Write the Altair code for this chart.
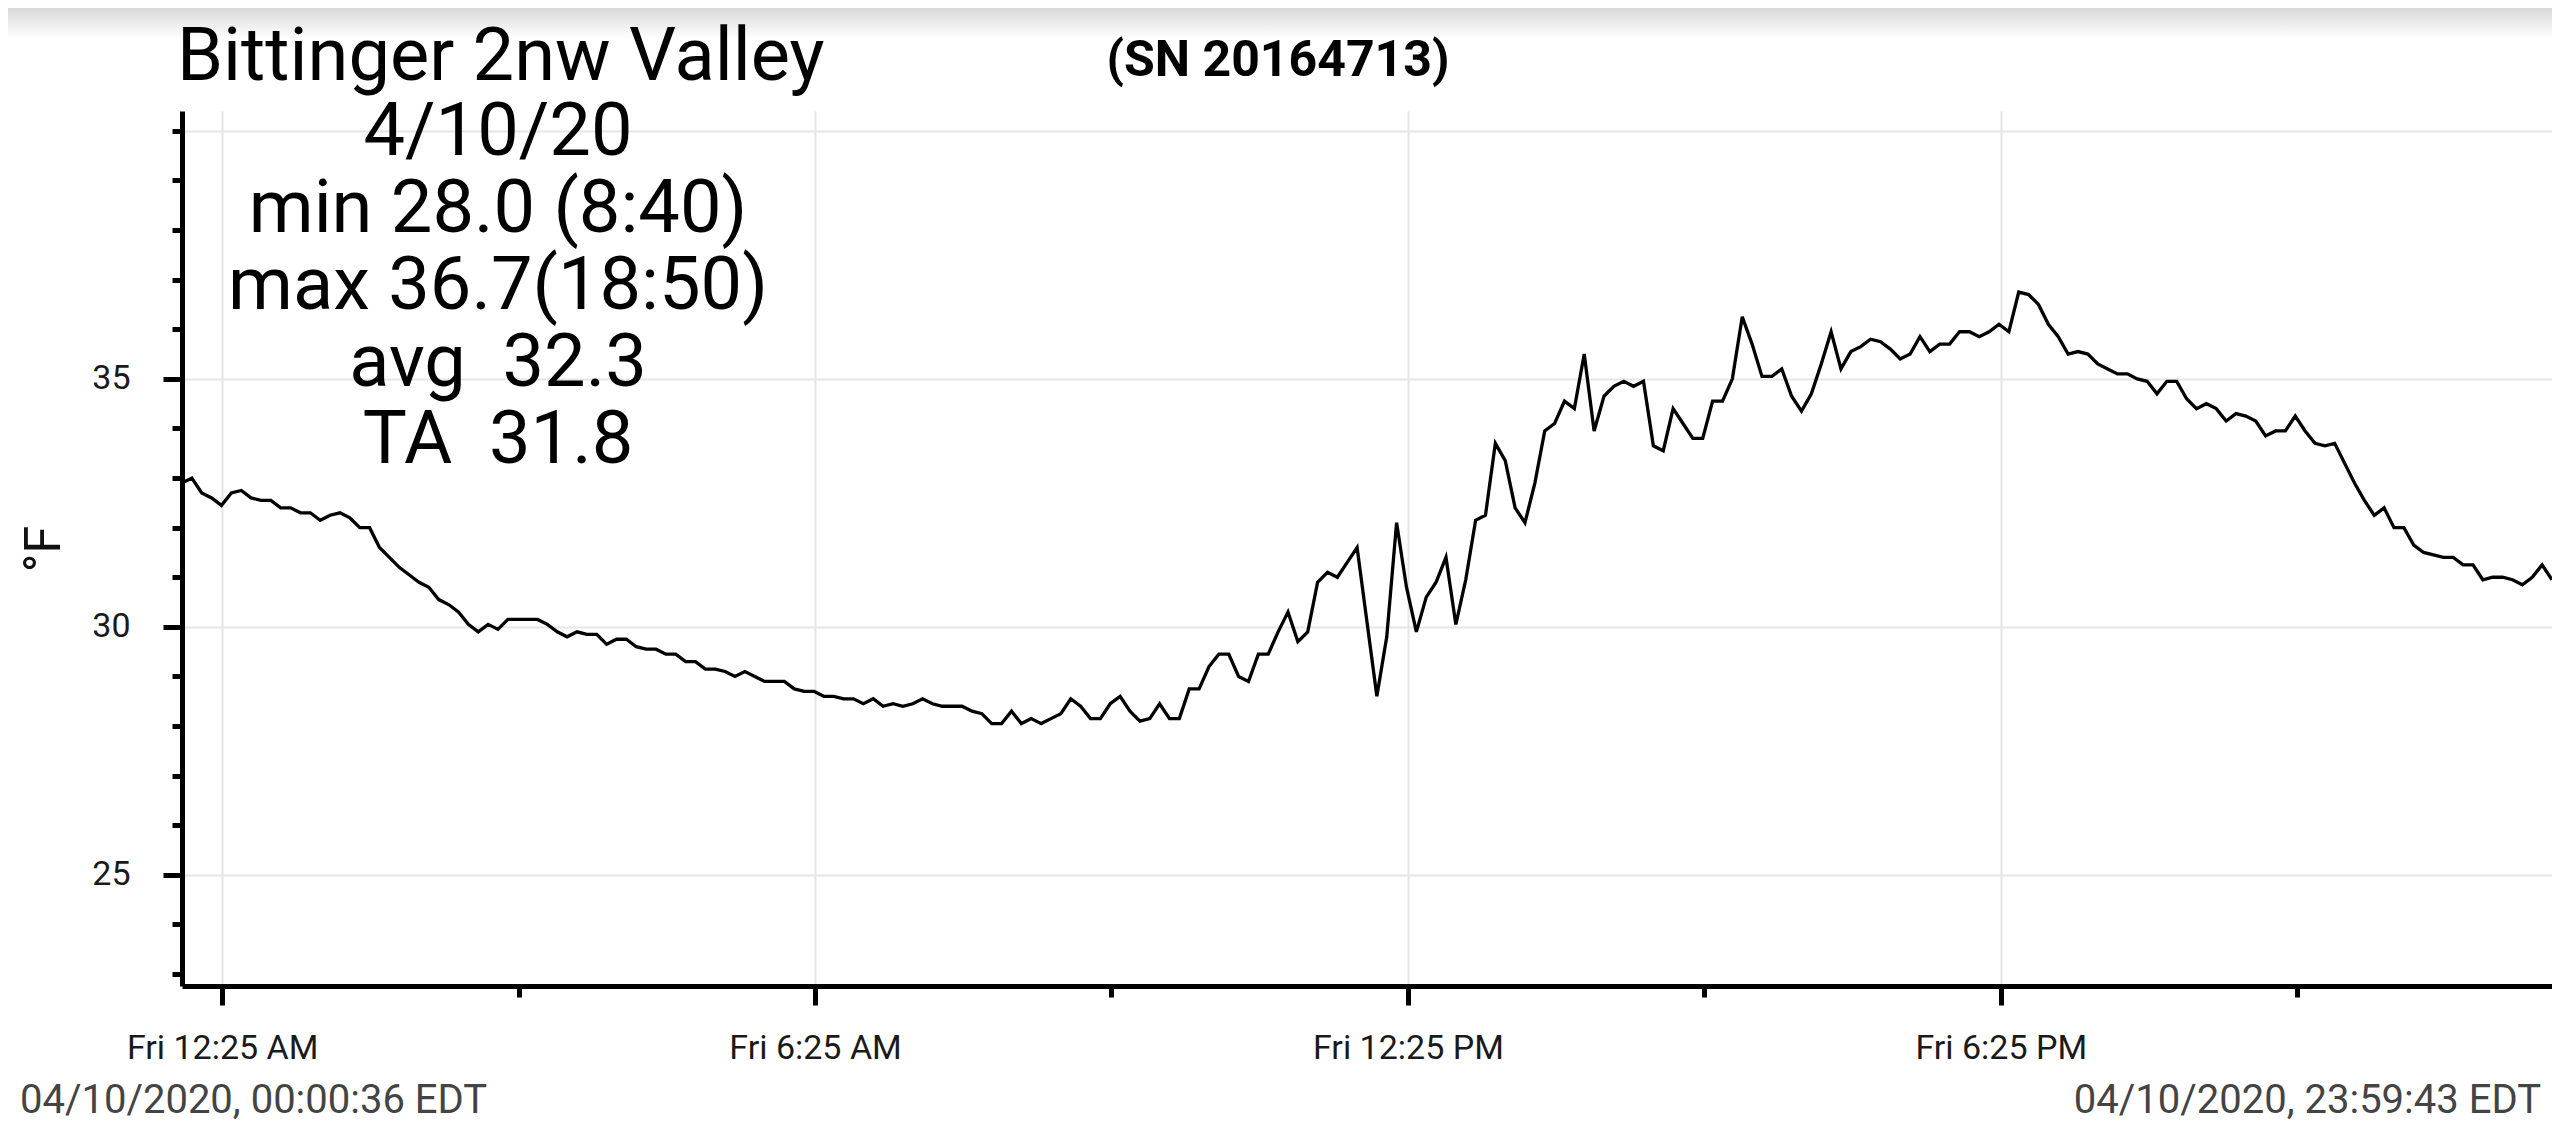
import altair as alt
import pandas as pd

# ---- data ----
station = "Bittinger 2nw Valley"
serial = "(SN 20164713)"
stats_lines = ["4/10/20", "min 28.0 (8:40)", "max 36.7(18:50)", "avg \u00a032.3", "TA \u00a031.8"]
start_label = "04/10/2020, 00:00:36 EDT"
end_label = "04/10/2020, 23:59:43 EDT"
start_time = "2020-04-10 00:00:36"
end_time = "2020-04-10 23:59:43"

temps = [
    32.9, 33.0, 32.7, 32.6, 32.45, 32.7, 32.75, 32.6, 32.55, 32.55,
    32.4, 32.4, 32.3, 32.3, 32.15, 32.25, 32.3, 32.2, 32.0, 32.0,
    31.6, 31.4, 31.2, 31.05, 30.9, 30.8, 30.55, 30.45, 30.3, 30.05,
    29.9, 30.05, 29.95, 30.15, 30.15, 30.15, 30.15, 30.05, 29.9, 29.8,
    29.9, 29.85, 29.85, 29.65, 29.75, 29.75, 29.6, 29.55, 29.55, 29.45,
    29.45, 29.3, 29.3, 29.15, 29.15, 29.1, 29.0, 29.1, 29.0, 28.9,
    28.9, 28.9, 28.75, 28.7, 28.7, 28.6, 28.6, 28.55, 28.55, 28.45,
    28.55, 28.4, 28.45, 28.4, 28.45, 28.55, 28.45, 28.4, 28.4, 28.4,
    28.3, 28.25, 28.05, 28.05, 28.3, 28.05, 28.15, 28.05, 28.15, 28.25,
    28.55, 28.4, 28.15, 28.15, 28.45, 28.6, 28.3, 28.1, 28.15, 28.45,
    28.15, 28.15, 28.75, 28.75, 29.2, 29.45, 29.45, 29.0, 28.9, 29.45,
    29.45, 29.9, 30.3, 29.7, 29.9, 30.9, 31.1, 31.0, 31.3, 31.6,
    30.1, 28.6, 29.8, 32.1, 30.8, 29.9, 30.6, 30.9, 31.4, 30.05,
    30.95, 32.15, 32.25, 33.7, 33.35, 32.4, 32.1, 32.9, 33.95, 34.1,
    34.55, 34.4, 35.5, 33.95, 34.65, 34.85, 34.95, 34.85, 34.95, 33.65,
    33.55, 34.4, 34.1, 33.8, 33.8, 34.55, 34.55, 35.0, 36.25, 35.7,
    35.05, 35.05, 35.2, 34.65, 34.35, 34.7, 35.3, 35.95, 35.2, 35.55,
    35.65, 35.8, 35.75, 35.6, 35.4, 35.5, 35.85, 35.55, 35.7, 35.7,
    35.95, 35.95, 35.85, 35.95, 36.1, 35.95, 36.75, 36.7, 36.5, 36.1,
    35.85, 35.5, 35.55, 35.5, 35.3, 35.2, 35.1, 35.1, 35.0, 34.95,
    34.7, 34.95, 34.95, 34.6, 34.4, 34.5, 34.4, 34.15, 34.3, 34.25,
    34.15, 33.85, 33.95, 33.95, 34.25, 33.95, 33.7, 33.65, 33.7, 33.3,
    32.9, 32.55, 32.25, 32.4, 32.0, 32.0, 31.65, 31.5, 31.45, 31.4,
    31.4, 31.25, 31.25, 30.95, 31.0, 31.0, 30.95, 30.85, 31.0, 31.25,
    30.95,
]

x_tick_hours = [0, 3, 6, 9, 12, 15, 18, 21]   # ticks at hh:25, labels every 6 h
y_tick_values = list(range(23, 41))
y_domain = [22.76, 40.4]

# ---- build table ----
times = pd.date_range(start_time, end_time, periods=len(temps))
df = pd.DataFrame({"time": times.strftime("%Y-%m-%dT%H:%M:%S"), "temp": temps})

W, H = 2370, 875
FONT = "Roboto"

x_start = alt.DateTime(year=2020, month=4, date=10, hours=0, minutes=0, seconds=36)
x_end = alt.DateTime(year=2020, month=4, date=10, hours=23, minutes=59, seconds=43)
x_values = [alt.DateTime(year=2020, month=4, date=10, hours=h, minutes=25) for h in x_tick_hours]

major_x = "hours(datum.value) % 6 == 0"
major_y = "datum.value % 5 == 0 && datum.value < 40"

x_axis = alt.Axis(
    values=x_values,
    labelExpr=f"{major_x} ? timeFormat(datum.value, '%a %-I:%M %p') : ''",
    tickSize={"condition": {"test": major_x, "value": 19}, "value": 11},
    gridOpacity={"condition": {"test": major_x, "value": 1}, "value": 0},
    labelBaseline="alphabetic",
    labelPadding=53,
    labelAlign="center",
    labelFlush=False,
    labelOverlap=False,
    labelLimit=0,
    title=None,
)

y_axis = alt.Axis(
    values=y_tick_values,
    labelExpr=f"{major_y} ? datum.label : ''",
    tickSize={"condition": {"test": major_y, "value": 19}, "value": 10},
    gridOpacity={"condition": {"test": "datum.value % 5 == 0", "value": 1}, "value": 0},
    labelPadding=33,
    labelOverlap=False,
    labelLimit=0,
    title="°F",
    titleFontSize=50,
    titleFontWeight="normal",
    titleFont=FONT,
    titleColor="#111111",
    titleAngle=270,
    titleX=-123,
    titleY=H / 2,
    titleAlign="center",
    titleBaseline="alphabetic",
)

line = alt.Chart(df).mark_line(color="black", strokeWidth=3.3).encode(
    x=alt.X("time:T", scale=alt.Scale(domain=[x_start, x_end], nice=False), axis=x_axis),
    y=alt.Y("temp:Q", scale=alt.Scale(domain=y_domain, nice=False, zero=False), axis=y_axis),
)

shade = alt.Chart(pd.DataFrame({"k": [0]})).mark_rect(
    color=alt.LinearGradient(
        gradient="linear",
        stops=[alt.GradientStop(color="#d9d9d9", offset=0),
               alt.GradientStop(color="#ffffff", offset=1)],
        x1=0, x2=0, y1=0, y2=1,
    )
).encode(x=alt.value(-174), x2=alt.value(W), y=alt.value(-103), y2=alt.value(-72))


def label(text, x, y, size, align="left", weight="normal", color="black", **kw):
    return alt.Chart(pd.DataFrame({"t": [text]})).mark_text(
        font=FONT, fontSize=size, align=align, baseline="alphabetic",
        fontWeight=weight, color=color, **kw
    ).encode(text="t:N", x=alt.value(x), y=alt.value(y))


title_txt = label(station, -5, -31, 74)
sn_txt = label(serial, 1096, -35, 50, align="center", weight="bold")
stats_txt = label("\n".join(stats_lines), 316, 44, 74, align="center", lineBreak="\n", lineHeight=77)
left_txt = label(start_label, -162, 1002, 40, color="#444444")
right_txt = label(end_label, 2359, 1002, 40, align="right", color="#444444")

chart = alt.layer(shade, line, title_txt, sn_txt, stats_txt, left_txt, right_txt).properties(
    width=W,
    height=H,
    padding={"left": 174, "top": 103, "right": 0, "bottom": 136},
    autosize=alt.AutoSizeParams(type="none"),
    background="white",
).configure_view(stroke="transparent").configure_axis(
    domainColor="black",
    domainWidth=5,
    tickColor="black",
    tickWidth=5,
    labelFont=FONT,
    labelFontSize=34,
    labelColor="#1a1a1a",
    gridColor="#e6e6e6",
    gridWidth=2,
)

chart.save("out.html", embed_options={"renderer": "svg", "actions": False})
